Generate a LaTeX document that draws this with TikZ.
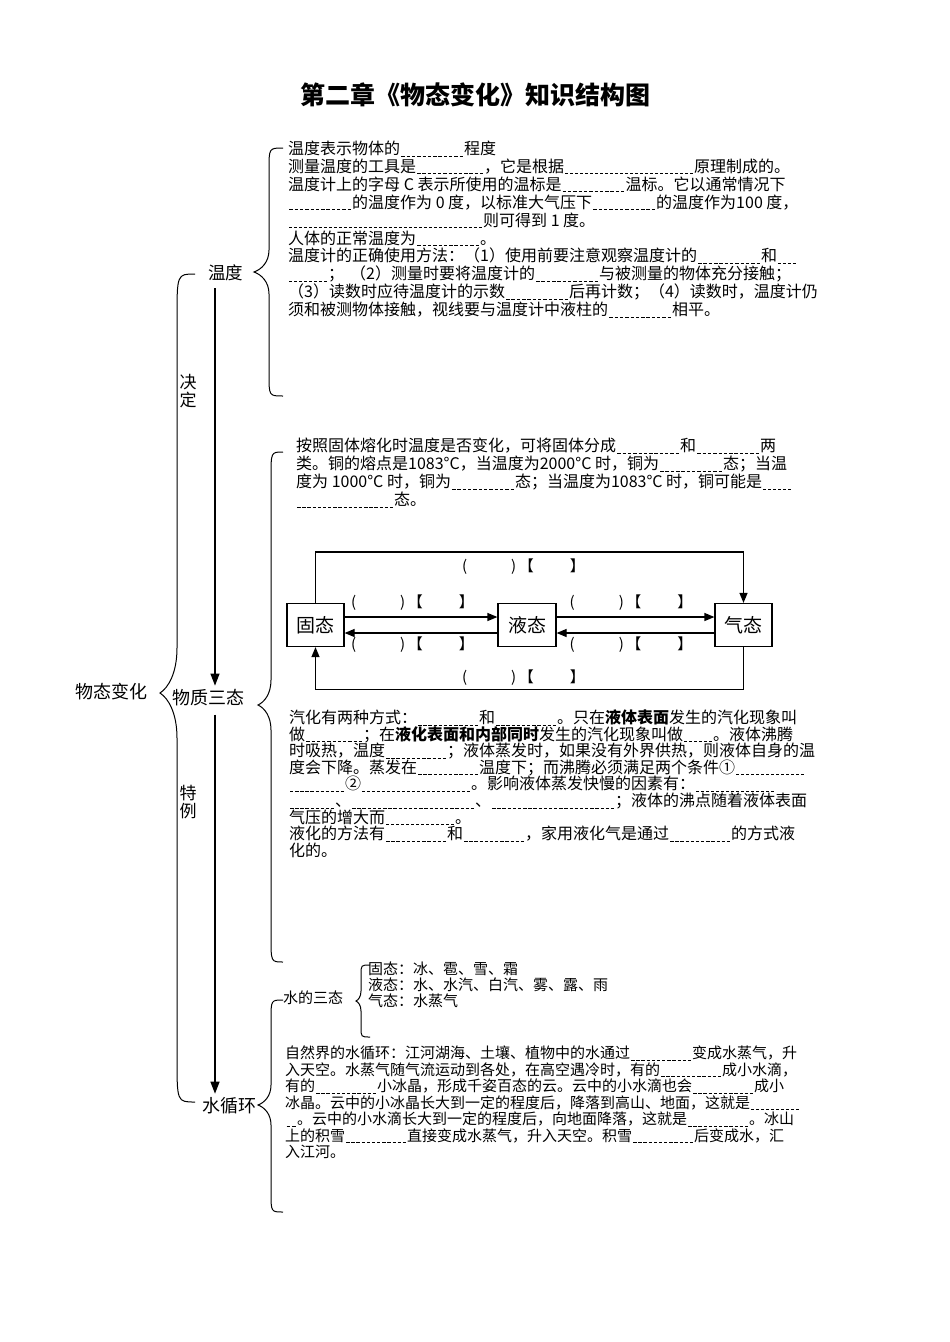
\documentclass[tikz,border=0pt]{standalone}
\usepackage{fontspec}
\setmainfont{Noto Sans CJK SC}
\usetikzlibrary{arrows.meta}
\newcommand\fillin[1]{\hbox to #1pt{\xleaders\hbox to 5pt{\hss\rule[-1.5pt]{3.4pt}{0.5pt}\hss}\hfill}}
\newcommand\pbk{(\hspace{44pt})\,【\hspace{36pt}】}
\newcommand\mybrace[7]{\draw[brace] (#1,#4) .. controls (#2,#4) .. (#2,#4+#7) -- (#2,#5-#7) .. controls (#2,#5-0.45*#7) and ({(#2+#3)/2},#5-0.12*#7) .. (#3,#5) .. controls ({(#2+#3)/2},#5+0.12*#7) and (#2,#5+0.45*#7) .. (#2,#5+#7) -- (#2,#6-#7) .. controls (#2,#6) .. (#1,#6);}
\begin{document}
\begin{tikzpicture}[x=1pt,y=-1pt,
  txt/.style={anchor=base west,inner sep=0pt,font=\fontsize{16}{18}\selectfont},
  lab/.style={anchor=base,inner sep=0pt,font=\fontsize{18}{20}\selectfont},
  vlab/.style={align=center,inner sep=0pt,font=\fontsize{17}{18}\selectfont},
  box/.style={draw,line width=1.2pt,minimum width=57pt,minimum height=43pt,inner sep=0pt,font=\fontsize{19}{20}\selectfont},
  arr/.style={line width=1.2pt,-{Triangle[length=10pt,width=8pt]}},
  varr/.style={line width=1.2pt,-{Triangle[length=12pt,width=9pt]}},
  brace/.style={line width=1pt},
  pl/.style={inner sep=0pt,font=\fontsize{15}{18}\selectfont}]
\useasboundingbox (0,0) rectangle (950,1342);
\fill[white] (0,0) rectangle (950,1342);

% title
\node[anchor=base,inner sep=0pt,font=\fontsize{25}{28}\selectfont\bfseries] (title) at (475,104.5) {第二章《物态变化》知识结构图};

% left labels
\node[lab] (wtbh) at (111.5,698) {物态变化};
\node[lab,font=\fontsize{17.5}{20}\selectfont] (wendu) at (225.5,279.6) {温度};
\node[lab] (wuzhi) at (208.5,704) {物质三态};
\node[lab] (shxh) at (229,1112) {水循环};
\node[vlab] (jueding) at (188,391) {决\\定};
\node[vlab] (teli) at (188,802) {特\\例};

\coordinate (ax) at (215,0);
\draw[varr,shorten <=7pt,shorten >=3pt] (wendu.south -| ax) -- (wuzhi.north -| ax);
\draw[varr,shorten <=9pt,shorten >=3pt] (wuzhi.south -| ax) -- (shxh.north -| ax);

% braces
\mybrace{195}{177}{160}{274}{693}{1102}{45}
\mybrace{283}{269}{254}{148}{272}{396}{22}
\mybrace{283}{271}{258}{452}{705}{962}{25}
\mybrace{283}{271}{258}{1000}{1105}{1212}{20}
\mybrace{370}{361}{356}{965}{1001}{1037}{10}

% temperature block
\foreach \t [count=\i] in {
 {温度表示物体的\fillin{64}程度},
 {测量温度的工具是\fillin{68}，它是根据\fillin{130}原理制成的。},
 {温度计上的字母 C 表示所使用的温标是\fillin{64}温标。它以通常情况下},
 {\fillin{64}的温度作为 0 度，以标准大气压下\fillin{64}的温度作为100 度，},
 {\fillin{195}则可得到 1 度。},
 {人体的正常温度为\fillin{64}。},
 {温度计的正确使用方法：（1）使用前要注意观察温度计的\fillin{64}和\fillin{20}},
 {\fillin{40}；\hspace{6pt}（2）测量时要将温度计的\fillin{64}与被测量的物体充分接触；},
 {（3）读数时应待温度计的示数\fillin{64}后再计数；（4）读数时，温度计仍},
 {须和被测物体接触，视线要与温度计中液柱的\fillin{64}相平。}}
 \node[txt] (tmp\i) at (288,{154.5+(\i-1)*17.9}) {\t};

% melting block
\foreach \t [count=\i] in {
 {按照固体熔化时温度是否变化，可将固体分成\fillin{64}和\fillin{64}两},
 {类。铜的熔点是1083°C，当温度为2000°C 时，铜为\fillin{64}态；当温},
 {度为 1000°C 时，铜为\fillin{64}态；当温度为1083°C 时，铜可能是\fillin{30}},
 {\fillin{98}态。}}
 \node[txt] (mlt\i) at (296,{451.5+(\i-1)*18}) {\t};

% state diagram
\node[box] (solid) at (315.5,625) {固态};
\node[box,minimum width=58pt] (liquid) at (527,625) {液态};
\node[box] (gas) at (743.5,625) {气态};
\draw[arr] ([yshift=8pt]solid.east) -- ([yshift=8pt]liquid.west);
\draw[arr] ([yshift=-8pt]liquid.west) -- ([yshift=-8pt]solid.east);
\draw[arr] ([yshift=8pt]liquid.east) -- ([yshift=8pt]gas.west);
\draw[arr] ([yshift=-8pt]gas.west) -- ([yshift=-8pt]liquid.east);
\draw[arr] (solid.north) -- ++(0,-51) -| (gas.north);
\draw[arr] (gas.south) -- ++(0,42) -| (solid.south);
\node[pl] (ptop) at (523.5,567) {\pbk};
\node[pl] (pbot) at (523.5,678) {\pbk};
\node[pl] (psl1) at (412.5,603) {\pbk};
\node[pl] (psl2) at (412.5,645) {\pbk};
\node[pl] (plg1) at (631,603) {\pbk};
\node[pl] (plg2) at (631,645) {\pbk};

% vaporization block
\foreach \t [count=\i] in {
 {汽化有两种方式：\fillin{62}和\fillin{62}。只在\textbf{液体表面}发生的汽化现象叫},
 {做\fillin{58}；在\textbf{液化表面和内部同时}发生的汽化现象叫做\fillin{30}。液体沸腾},
 {时吸热，温度\fillin{62}；液体蒸发时，如果没有外界供热，则液体自身的温},
 {度会下降。蒸发在\fillin{62}温度下；而沸腾必须满足两个条件①\fillin{70}},
 {\fillin{56}②\fillin{110}。影响液体蒸发快慢的因素有：\fillin{80}},
 {\fillin{46}、\fillin{124}、\fillin{124}；液体的沸点随着液体表面},
 {气压的增大而\fillin{70}。},
 {液化的方法有\fillin{62}和\fillin{62}，家用液化气是通过\fillin{62}的方式液},
 {化的。}}
 \node[txt] (vap\i) at (289,{723.5+(\i-1)*16.6}) {\t};

% water three states
\node[txt,font=\fontsize{15}{18}\selectfont] (wst) at (283,1003.5) {水的三态};
\foreach \t [count=\i] in {
 {固态：冰、雹、雪、霜},
 {液态：水、水汽、白汽、雾、露、雨},
 {气态：水蒸气}}
 \node[txt,font=\fontsize{15}{18}\selectfont] (ws\i) at (368,{974.5+(\i-1)*16}) {\t};

% water cycle block
\foreach \t [count=\i] in {
 {自然界的水循环：江河湖海、土壤、植物中的水通过\fillin{62}变成水蒸气，升},
 {入天空。水蒸气随气流运动到各处，在高空遇冷时，有的\fillin{62}成小水滴，},
 {有的\fillin{62}小冰晶，形成千姿百态的云。云中的小水滴也会\fillin{62}成小},
 {冰晶。云中的小冰晶长大到一定的程度后，降落到高山、地面，这就是\fillin{50}},
 {\fillin{12}。云中的小水滴长大到一定的程度后，向地面降落，这就是\fillin{62}。冰山},
 {上的积雪\fillin{62}直接变成水蒸气，升入天空。积雪\fillin{62}后变成水，汇},
 {入江河。}}
 \node[txt,font=\fontsize{15}{18}\selectfont] (wc\i) at (285,{1058.5+(\i-1)*16.5}) {\t};
\end{tikzpicture}
\end{document}
